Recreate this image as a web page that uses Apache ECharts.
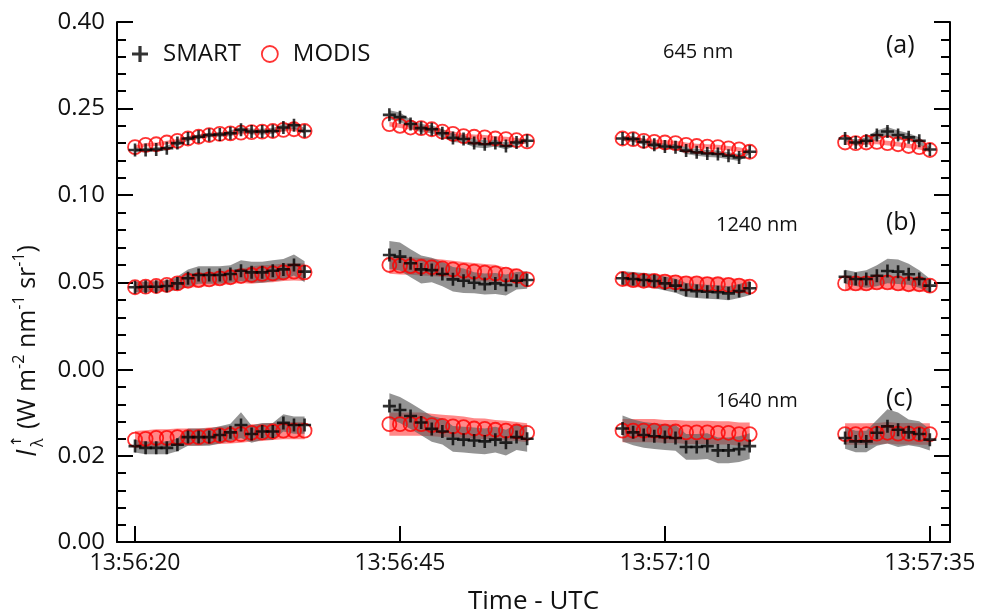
<!DOCTYPE html>
<html>
<head>
<meta charset="utf-8">
<script src="https://cdn.jsdelivr.net/npm/echarts@6/dist/echarts.min.js"></script>
<style>
html, body { margin: 0; padding: 0; background: #fff; }
#chart { width: 981px; height: 616px; }
</style>
</head>
<body>
<div id="chart"></div>
<script>
// seconds after 13:56:20
var times = [0,1,2,3,4,5,6,7,8,9,10,11,12,13,14,15,16,
    24,25,26,27,28,29,30,31,32,33,34,35,36,37,
    46,47,48,49,50,51,52,53,54,55,56,57,58,
    67,68,69,70,71,72,73,74,75];
var timeTicks = [0, 25, 50, 75];

// 645 nm
var smartA = [0.178,0.178,0.179,0.181,0.190,0.198,0.201,0.204,0.205,0.207,0.213,0.210,0.210,0.211,0.217,0.221,0.211,
    0.239,0.235,0.223,0.216,0.214,0.207,0.199,0.197,0.190,0.188,0.190,0.185,0.191,0.194,
    0.198,0.197,0.192,0.187,0.184,0.183,0.177,0.174,0.172,0.171,0.168,0.165,0.175,
    0.198,0.191,0.194,0.204,0.210,0.204,0.200,0.194,0.179];
var smartErrA = [0.004,0.004,0.004,0.004,0.004,0.004,0.004,0.004,0.004,0.005,0.005,0.005,0.005,0.005,0.006,0.006,0.005,
    0.008,0.008,0.008,0.007,0.007,0.007,0.007,0.007,0.007,0.007,0.006,0.006,0.005,0.004,
    0.004,0.005,0.005,0.005,0.005,0.005,0.006,0.006,0.006,0.006,0.006,0.006,0.004,
    0.004,0.005,0.006,0.008,0.008,0.008,0.007,0.006,0.004];
var modisA = [0.183,0.187,0.188,0.191,0.194,0.198,0.201,0.204,0.206,0.207,0.208,0.209,0.210,0.211,0.213,0.214,0.211,
    0.223,0.220,0.217,0.216,0.214,0.210,0.206,0.202,0.201,0.200,0.198,0.197,0.195,0.193,
    0.198,0.197,0.194,0.192,0.191,0.190,0.187,0.185,0.184,0.183,0.181,0.179,0.175,
    0.191,0.190,0.191,0.192,0.190,0.188,0.185,0.183,0.178];
var modisErrA = [0.003,0.003,0.003,0.003,0.003,0.003,0.003,0.003,0.003,0.003,0.003,0.003,0.003,0.003,0.003,0.003,0.003,
    0.004,0.004,0.004,0.004,0.004,0.004,0.004,0.004,0.004,0.004,0.004,0.004,0.004,0.004,
    0.004,0.004,0.004,0.004,0.004,0.004,0.004,0.004,0.004,0.004,0.004,0.004,0.004,
    0.004,0.004,0.004,0.004,0.004,0.004,0.004,0.004,0.004];

// 1240 nm
var smartB = [0.0473,0.0476,0.0476,0.0480,0.0495,0.0524,0.0543,0.0543,0.0543,0.0549,0.0567,0.0558,0.0558,0.0567,0.0575,0.0600,0.0562,
    0.0657,0.0648,0.0610,0.0575,0.0571,0.0549,0.0518,0.0510,0.0499,0.0491,0.0495,0.0486,0.0510,0.0514,
    0.0524,0.0520,0.0514,0.0509,0.0495,0.0482,0.0457,0.0451,0.0447,0.0444,0.0438,0.0451,0.0467,
    0.0533,0.0520,0.0520,0.0539,0.0566,0.0562,0.0547,0.0520,0.0482];
var smartErrB = [0.003,0.003,0.003,0.003,0.004,0.005,0.005,0.005,0.005,0.005,0.006,0.006,0.006,0.006,0.006,0.006,0.006,
    0.008,0.008,0.008,0.008,0.007,0.007,0.007,0.007,0.006,0.006,0.006,0.006,0.005,0.005,
    0.004,0.004,0.004,0.004,0.004,0.004,0.004,0.004,0.004,0.004,0.004,0.004,0.004,
    0.004,0.004,0.005,0.006,0.007,0.007,0.006,0.005,0.004];
var modisB = [0.0473,0.0476,0.0480,0.0486,0.0495,0.0510,0.0514,0.0518,0.0524,0.0530,0.0537,0.0543,0.0549,0.0552,0.0558,0.0562,0.0558,
    0.0600,0.0596,0.0594,0.0590,0.0587,0.0581,0.0575,0.0567,0.0562,0.0556,0.0552,0.0545,0.0537,0.0518,
    0.0520,0.0514,0.0510,0.0509,0.0505,0.0501,0.0495,0.0495,0.0491,0.0490,0.0486,0.0482,0.0476,
    0.0495,0.0495,0.0495,0.0501,0.0501,0.0495,0.0490,0.0490,0.0482];
var modisErrB = [0.003,0.003,0.003,0.003,0.003,0.004,0.004,0.004,0.004,0.004,0.004,0.005,0.005,0.005,0.005,0.005,0.005,
    0.005,0.005,0.005,0.005,0.005,0.005,0.005,0.005,0.005,0.005,0.005,0.004,0.004,0.004,
    0.004,0.004,0.004,0.004,0.004,0.004,0.004,0.004,0.004,0.004,0.004,0.004,0.004,
    0.004,0.004,0.004,0.004,0.004,0.004,0.004,0.004,0.004];

// 1640 nm
var smartC = [0.0223,0.0219,0.0219,0.0219,0.0226,0.0244,0.0244,0.0244,0.0249,0.0255,0.0272,0.0251,0.0257,0.0257,0.0277,0.0272,0.0272,
    0.0316,0.0307,0.0293,0.0278,0.0263,0.0257,0.0240,0.0238,0.0236,0.0234,0.0238,0.0231,0.0244,0.0240,
    0.0264,0.0255,0.0249,0.0246,0.0244,0.0242,0.0221,0.0221,0.0223,0.0213,0.0213,0.0216,0.0223,
    0.0242,0.0234,0.0234,0.0254,0.0269,0.0261,0.0255,0.0251,0.0238];
var smartErrC = [0.0015,0.0015,0.0015,0.0015,0.0015,0.002,0.002,0.002,0.002,0.002,0.003,0.002,0.002,0.002,0.002,0.002,0.002,
    0.003,0.003,0.003,0.003,0.003,0.003,0.003,0.003,0.003,0.003,0.003,0.003,0.003,0.003,
    0.003,0.003,0.003,0.003,0.003,0.003,0.003,0.003,0.003,0.003,0.003,0.003,0.003,
    0.0025,0.0025,0.0025,0.003,0.004,0.004,0.003,0.003,0.0025];
var modisC = [0.0238,0.0240,0.0242,0.0242,0.0244,0.0244,0.0244,0.0246,0.0248,0.0249,0.0251,0.0254,0.0255,0.0257,0.0259,0.0259,0.0259,
    0.0274,0.0274,0.0274,0.0274,0.0272,0.0270,0.0269,0.0267,0.0264,0.0263,0.0261,0.0259,0.0257,0.0254,
    0.0259,0.0259,0.0259,0.0259,0.0257,0.0257,0.0255,0.0255,0.0255,0.0254,0.0254,0.0251,0.0251,
    0.0251,0.0251,0.0251,0.0252,0.0254,0.0252,0.0252,0.0251,0.0251];
var modisErrC = [0.002,0.002,0.002,0.002,0.002,0.002,0.002,0.002,0.002,0.002,0.002,0.002,0.002,0.002,0.002,0.002,0.002,
    0.0027,0.0027,0.0027,0.0027,0.0026,0.0026,0.0025,0.0025,0.0024,0.0024,0.0023,0.0023,0.0022,0.0022,
    0.0027,0.0027,0.0027,0.0027,0.0027,0.0027,0.0027,0.0027,0.0027,0.0027,0.0027,0.0027,0.0027,
    0.0025,0.0025,0.0025,0.0025,0.0025,0.0025,0.0025,0.0025,0.0025];

var panels = [
    {smart: smartA, smartErr: smartErrA, modis: modisA, modisErr: modisErrA, min: 0.10, max: 0.40, interval: 0.15, showMax: true},
    {smart: smartB, smartErr: smartErrB, modis: modisB, modisErr: modisErrB, min: 0, max: 0.10, interval: 0.05, showMax: false},
    {smart: smartC, smartErr: smartErrC, modis: modisC, modisErr: modisErrC, min: 0, max: 0.04, interval: 0.02, showMax: false}
];

// split the time list into the four flight-leg segments
var segments = [];
var s0 = 0;
for (var k = 1; k <= times.length; k++) {
    if (k == times.length || times[k] - times[k - 1] > 1) {
        segments.push([s0, k - 1]);
        s0 = k;
    }
}

var FONT = 'Open Sans';
var INK = '#111';
var PLUS = 'path://M4,0H6V4H10V6H6V10H4V6H0V4H4Z';

function timeLabel(v) {
    var s = 56 * 60 + 20 + Math.round(v);
    var m = Math.floor(s / 60);
    var sec = s % 60;
    return '13:' + m + ':' + (sec < 10 ? '0' : '') + sec;
}

var chart = echarts.init(document.getElementById('chart'));

var grids = [
    {left: 117, right: 31, top: 22, height: 173},
    {left: 117, right: 31, top: 195, height: 175},
    {left: 117, right: 31, top: 370, height: 175}
];

var xAxes = [], yAxes = [], series = [];
var tickLine = {color: '#000', width: 2};

panels.forEach(function (p, gi) {
    var last = gi == panels.length - 1;
    xAxes.push({
        type: 'value', gridIndex: gi, min: -1.7, max: 76.9,
        show: last,
        axisLine: {show: last, onZero: false, lineStyle: tickLine},
        axisTick: {show: last, inside: true, length: 16, lineStyle: tickLine, customValues: timeTicks},
        axisLabel: {show: last, customValues: timeTicks, formatter: timeLabel,
            fontFamily: FONT, fontSize: 23, color: INK, margin: 10},
        splitLine: {show: false},
        name: last ? 'Time - UTC' : '',
        nameLocation: 'middle', nameGap: 47,
        nameTextStyle: {fontFamily: FONT, fontSize: 26, color: INK}
    });
    ['left', 'right'].forEach(function (pos) {
        yAxes.push({
            type: 'value', gridIndex: gi, position: pos,
            min: p.min, max: p.max, interval: p.interval,
            axisLine: {show: true, onZero: false, lineStyle: tickLine},
            axisTick: {show: true, inside: true, length: 16, lineStyle: tickLine},
            minorTick: {show: true, splitNumber: 5, length: 9, lineStyle: tickLine},
            axisLabel: {show: pos == 'left', showMaxLabel: p.showMax,
                fontFamily: FONT, fontSize: 24, color: INK, margin: 12,
                formatter: function (v) { return v.toFixed(2); }},
            splitLine: {show: false}
        });
    });

    function band(vals, errs, color, z) {
        return {
            type: 'custom', xAxisIndex: gi, yAxisIndex: gi * 2, z: z, silent: true,
            data: segments.map(function (s, i) { return [times[s[0]], vals[s[0]], i]; }),
            renderItem: function (params, api) {
                var s = segments[params.dataIndex];
                var top = [], bot = [];
                for (var j = s[0]; j <= s[1]; j++) {
                    top.push(api.coord([times[j], vals[j] + errs[j]]));
                    bot.push(api.coord([times[j], vals[j] - errs[j]]));
                }
                return {type: 'polygon', shape: {points: top.concat(bot.reverse())}, style: {fill: color}};
            }
        };
    }

    series.push(band(p.modis, p.modisErr, 'rgba(255,40,40,0.55)', 1));
    series.push(band(p.smart, p.smartErr, 'rgba(90,90,90,0.65)', 2));
    series.push({
        name: 'MODIS', type: 'scatter', xAxisIndex: gi, yAxisIndex: gi * 2, z: 3,
        symbol: 'circle', symbolSize: 14,
        itemStyle: {color: 'rgba(0,0,0,0)', borderColor: '#ff0000', borderWidth: 1.8},
        data: times.map(function (t, j) { return [t, p.modis[j]]; })
    });
    series.push({
        name: 'SMART', type: 'scatter', xAxisIndex: gi, yAxisIndex: gi * 2, z: 4,
        symbol: PLUS, symbolSize: 13,
        itemStyle: {color: '#000'},
        data: times.map(function (t, j) { return [t, p.smart[j]]; })
    });
});

var labelStyle = {fill: INK, fontFamily: FONT};

chart.setOption({
    animation: false,
    backgroundColor: '#fff',
    grid: grids,
    xAxis: xAxes,
    yAxis: yAxes,
    legend: {
        left: 127, top: 37, itemGap: 20, itemWidth: 16, itemHeight: 16,
        textStyle: {fontFamily: FONT, fontSize: 24, color: INK, padding: [0, 0, 0, 10]},
        data: [
            {name: 'SMART', icon: PLUS, itemStyle: {color: '#000'}},
            {name: 'MODIS', icon: 'circle', itemStyle: {color: 'rgba(0,0,0,0)', borderColor: '#ff0000', borderWidth: 1.8}}
        ]
    },
    graphic: [
        {type: 'text', left: 663, top: 42, style: Object.assign({text: '645 nm', fontSize: 20}, labelStyle)},
        {type: 'text', left: 886, top: 33, style: Object.assign({text: '(a)', fontSize: 25}, labelStyle)},
        {type: 'text', left: 716, top: 215, style: Object.assign({text: '1240 nm', fontSize: 20}, labelStyle)},
        {type: 'text', left: 886, top: 210, style: Object.assign({text: '(b)', fontSize: 25}, labelStyle)},
        {type: 'text', left: 716, top: 391, style: Object.assign({text: '1640 nm', fontSize: 20}, labelStyle)},
        {type: 'text', left: 886, top: 386, style: Object.assign({text: '(c)', fontSize: 25}, labelStyle)},
        {
            type: 'group', x: 28, y: 321, rotation: Math.PI / 2,
            children: [
                {type: 'text', x: -136, y: 0, style: {text: 'I', fontFamily: FONT, fontSize: 27, fontStyle: 'italic',
                    fill: INK, align: 'left', verticalAlign: 'middle'}},
                {type: 'text', x: -126, y: 10, style: {text: 'λ', fontFamily: FONT, fontSize: 16,
                    fill: INK, align: 'left', verticalAlign: 'middle'}},
                {type: 'text', x: -126, y: -11, style: {text: '↑', fontFamily: 'DejaVu Sans', fontSize: 14,
                    fill: INK, align: 'left', verticalAlign: 'middle'}},
                {type: 'text', x: -108, y: 0, style: {
                    text: '(W m{s|-2} nm{s|-1} sr{s|-1})', fontFamily: FONT, fontSize: 25,
                    fill: INK, align: 'left', verticalAlign: 'middle',
                    rich: {s: {fontFamily: FONT, fontSize: 16, verticalAlign: 'top', lineHeight: 34, fill: INK}}
                }}
            ]
        }
    ],
    series: series
});
</script>
</body>
</html>
